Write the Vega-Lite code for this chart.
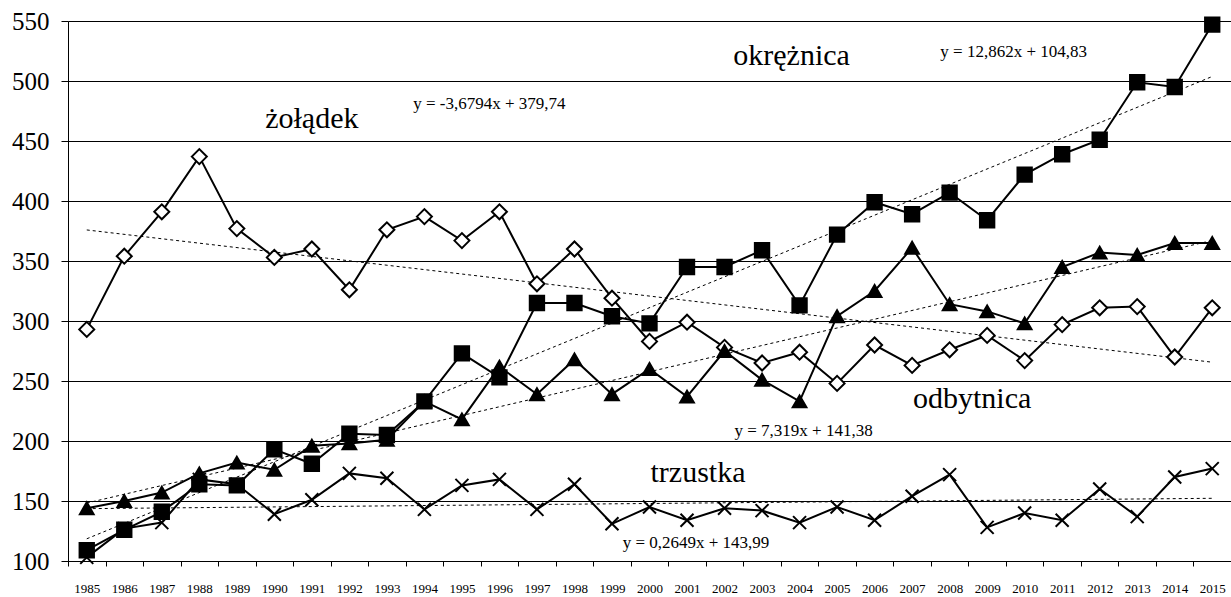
{
  "$schema": "https://vega.github.io/schema/vega-lite/v6.json",
  "width": 1163,
  "height": 540,
  "autosize": "none",
  "padding": {"left": 68, "top": 21, "right": 0, "bottom": 36},
  "background": "white",
  "config": {"view": {"stroke": null}, "font": "Liberation Serif, Times New Roman, serif"},
  "datasets": {
    "series": [
      {"year": 1985, "site": "żołądek", "value": 293}, {"year": 1986, "site": "żołądek", "value": 354}, {"year": 1987, "site": "żołądek", "value": 391}, {"year": 1988, "site": "żołądek", "value": 437}, {"year": 1989, "site": "żołądek", "value": 377}, {"year": 1990, "site": "żołądek", "value": 353}, {"year": 1991, "site": "żołądek", "value": 360}, {"year": 1992, "site": "żołądek", "value": 326}, {"year": 1993, "site": "żołądek", "value": 376}, {"year": 1994, "site": "żołądek", "value": 387}, {"year": 1995, "site": "żołądek", "value": 367}, {"year": 1996, "site": "żołądek", "value": 391}, {"year": 1997, "site": "żołądek", "value": 331}, {"year": 1998, "site": "żołądek", "value": 360}, {"year": 1999, "site": "żołądek", "value": 319}, {"year": 2000, "site": "żołądek", "value": 283}, {"year": 2001, "site": "żołądek", "value": 299}, {"year": 2002, "site": "żołądek", "value": 278}, {"year": 2003, "site": "żołądek", "value": 265}, {"year": 2004, "site": "żołądek", "value": 274}, {"year": 2005, "site": "żołądek", "value": 248}, {"year": 2006, "site": "żołądek", "value": 280}, {"year": 2007, "site": "żołądek", "value": 263}, {"year": 2008, "site": "żołądek", "value": 276}, {"year": 2009, "site": "żołądek", "value": 288}, {"year": 2010, "site": "żołądek", "value": 267}, {"year": 2011, "site": "żołądek", "value": 297}, {"year": 2012, "site": "żołądek", "value": 311}, {"year": 2013, "site": "żołądek", "value": 312}, {"year": 2014, "site": "żołądek", "value": 270}, {"year": 2015, "site": "żołądek", "value": 311},
      {"year": 1985, "site": "okrężnica", "value": 109}, {"year": 1986, "site": "okrężnica", "value": 126}, {"year": 1987, "site": "okrężnica", "value": 141}, {"year": 1988, "site": "okrężnica", "value": 164}, {"year": 1989, "site": "okrężnica", "value": 163}, {"year": 1990, "site": "okrężnica", "value": 193}, {"year": 1991, "site": "okrężnica", "value": 181}, {"year": 1992, "site": "okrężnica", "value": 206}, {"year": 1993, "site": "okrężnica", "value": 205}, {"year": 1994, "site": "okrężnica", "value": 233}, {"year": 1995, "site": "okrężnica", "value": 273}, {"year": 1996, "site": "okrężnica", "value": 253}, {"year": 1997, "site": "okrężnica", "value": 315}, {"year": 1998, "site": "okrężnica", "value": 315}, {"year": 1999, "site": "okrężnica", "value": 304}, {"year": 2000, "site": "okrężnica", "value": 298}, {"year": 2001, "site": "okrężnica", "value": 345}, {"year": 2002, "site": "okrężnica", "value": 345}, {"year": 2003, "site": "okrężnica", "value": 359}, {"year": 2004, "site": "okrężnica", "value": 313}, {"year": 2005, "site": "okrężnica", "value": 372}, {"year": 2006, "site": "okrężnica", "value": 399}, {"year": 2007, "site": "okrężnica", "value": 389}, {"year": 2008, "site": "okrężnica", "value": 407}, {"year": 2009, "site": "okrężnica", "value": 384}, {"year": 2010, "site": "okrężnica", "value": 422}, {"year": 2011, "site": "okrężnica", "value": 439}, {"year": 2012, "site": "okrężnica", "value": 451}, {"year": 2013, "site": "okrężnica", "value": 499}, {"year": 2014, "site": "okrężnica", "value": 495}, {"year": 2015, "site": "okrężnica", "value": 547},
      {"year": 1985, "site": "odbytnica", "value": 144}, {"year": 1986, "site": "odbytnica", "value": 150}, {"year": 1987, "site": "odbytnica", "value": 157}, {"year": 1988, "site": "odbytnica", "value": 173}, {"year": 1989, "site": "odbytnica", "value": 182}, {"year": 1990, "site": "odbytnica", "value": 176}, {"year": 1991, "site": "odbytnica", "value": 196}, {"year": 1992, "site": "odbytnica", "value": 198}, {"year": 1993, "site": "odbytnica", "value": 201}, {"year": 1994, "site": "odbytnica", "value": 233}, {"year": 1995, "site": "odbytnica", "value": 218}, {"year": 1996, "site": "odbytnica", "value": 262}, {"year": 1997, "site": "odbytnica", "value": 239}, {"year": 1998, "site": "odbytnica", "value": 268}, {"year": 1999, "site": "odbytnica", "value": 239}, {"year": 2000, "site": "odbytnica", "value": 260}, {"year": 2001, "site": "odbytnica", "value": 237}, {"year": 2002, "site": "odbytnica", "value": 275}, {"year": 2003, "site": "odbytnica", "value": 251}, {"year": 2004, "site": "odbytnica", "value": 233}, {"year": 2005, "site": "odbytnica", "value": 304}, {"year": 2006, "site": "odbytnica", "value": 325}, {"year": 2007, "site": "odbytnica", "value": 361}, {"year": 2008, "site": "odbytnica", "value": 314}, {"year": 2009, "site": "odbytnica", "value": 308}, {"year": 2010, "site": "odbytnica", "value": 298}, {"year": 2011, "site": "odbytnica", "value": 345}, {"year": 2012, "site": "odbytnica", "value": 357}, {"year": 2013, "site": "odbytnica", "value": 355}, {"year": 2014, "site": "odbytnica", "value": 365}, {"year": 2015, "site": "odbytnica", "value": 365},
      {"year": 1985, "site": "trzustka", "value": 103}, {"year": 1986, "site": "trzustka", "value": 127}, {"year": 1987, "site": "trzustka", "value": 132}, {"year": 1988, "site": "trzustka", "value": 168}, {"year": 1989, "site": "trzustka", "value": 164}, {"year": 1990, "site": "trzustka", "value": 139}, {"year": 1991, "site": "trzustka", "value": 151}, {"year": 1992, "site": "trzustka", "value": 173}, {"year": 1993, "site": "trzustka", "value": 169}, {"year": 1994, "site": "trzustka", "value": 143}, {"year": 1995, "site": "trzustka", "value": 163}, {"year": 1996, "site": "trzustka", "value": 168}, {"year": 1997, "site": "trzustka", "value": 143}, {"year": 1998, "site": "trzustka", "value": 164}, {"year": 1999, "site": "trzustka", "value": 131}, {"year": 2000, "site": "trzustka", "value": 145}, {"year": 2001, "site": "trzustka", "value": 134}, {"year": 2002, "site": "trzustka", "value": 144}, {"year": 2003, "site": "trzustka", "value": 142}, {"year": 2004, "site": "trzustka", "value": 132}, {"year": 2005, "site": "trzustka", "value": 145}, {"year": 2006, "site": "trzustka", "value": 134}, {"year": 2007, "site": "trzustka", "value": 154}, {"year": 2008, "site": "trzustka", "value": 172}, {"year": 2009, "site": "trzustka", "value": 128}, {"year": 2010, "site": "trzustka", "value": 140}, {"year": 2011, "site": "trzustka", "value": 134}, {"year": 2012, "site": "trzustka", "value": 160}, {"year": 2013, "site": "trzustka", "value": 137}, {"year": 2014, "site": "trzustka", "value": 170}, {"year": 2015, "site": "trzustka", "value": 177}
    ],
    "labels": [
      {"id": "l1", "year": 1991, "value": 460.6, "text": "żołądek"},
      {"id": "l2", "year": 2004, "value": 513.3, "text": "okrężnica"},
      {"id": "l3", "year": 2009, "value": 227.2, "text": "odbytnica"},
      {"id": "l4", "year": 2001, "value": 166.1, "text": "trzustka"},
      {"id": "e1", "year": 1996, "value": 476.4, "text": "y = -3,6794x + 379,74"},
      {"id": "e2", "year": 2010, "value": 520.3, "text": "y = 12,862x + 104,83"},
      {"id": "e3", "year": 2004, "value": 204.2, "text": "y = 7,319x + 141,38"},
      {"id": "e4", "year": 2001, "value": 111.1, "text": "y = 0,2649x + 143,99"}
    ]
  },
  "encoding": {
    "x": {
      "field": "year", "type": "ordinal", "bandPosition": 0.5,
      "scale": {"type": "band", "paddingInner": 0, "paddingOuter": 0},
      "axis": {"title": null, "labelAngle": 0, "labelFont": "Liberation Serif, Times New Roman, serif", "labelFontSize": 13, "labelColor": "black", "tickBand": "extent", "tickSize": 5, "tickColor": "black", "domainColor": "black", "labelPadding": 16, "grid": false}
    },
    "y": {
      "field": "value", "type": "quantitative",
      "scale": {"domain": [100, 550], "nice": false, "zero": false},
      "axis": {"title": null, "values": [100, 150, 200, 250, 300, 350, 400, 450, 500, 550], "labelFont": "Liberation Serif, Times New Roman, serif", "labelFontSize": 25, "labelColor": "black", "tickSize": 7, "tickColor": "black", "domainColor": "black", "gridColor": "black", "gridOpacity": 1, "gridWidth": 1, "labelPadding": 12, "grid": true}
    }
  },
  "layer": [
    {
      "data": {"name": "series"},
      "transform": [{"regression": "value", "on": "year", "groupby": ["site"]}],
      "mark": {"type": "line", "color": "black", "strokeWidth": 1, "strokeDash": [3, 3]},
      "encoding": {"detail": {"field": "site"}}
    },
    {
      "data": {"name": "series"},
      "mark": {"type": "line", "color": "black", "strokeWidth": 2},
      "encoding": {"detail": {"field": "site"}}
    },
    {
      "data": {"name": "series"},
      "mark": {"type": "point", "filled": true, "stroke": "black", "strokeWidth": 2, "opacity": 1},
      "encoding": {
        "shape": {"field": "site", "type": "nominal", "scale": {"domain": ["żołądek", "okrężnica", "odbytnica", "trzustka"], "range": ["diamond", "square", "triangle-up", "M-1,-1L1,1M-1,1L1,-1"]}, "legend": null},
        "fill": {"field": "site", "type": "nominal", "scale": {"domain": ["żołądek", "okrężnica", "odbytnica", "trzustka"], "range": ["white", "black", "black", "white"]}, "legend": null},
        "size": {"field": "site", "type": "nominal", "scale": {"domain": ["żołądek", "okrężnica", "odbytnica", "trzustka"], "range": [225, 169, 150, 196]}, "legend": null}
      }
    },
    {"data": {"name": "labels"}, "transform": [{"filter": "datum.id === 'l1'"}], "mark": {"type": "text", "font": "Liberation Serif, Times New Roman, serif", "fontSize": 30, "align": "center", "baseline": "alphabetic", "color": "black", "dx": 0}, "encoding": {"text": {"field": "text"}}},
    {"data": {"name": "labels"}, "transform": [{"filter": "datum.id === 'l2'"}], "mark": {"type": "text", "font": "Liberation Serif, Times New Roman, serif", "fontSize": 30, "align": "center", "baseline": "alphabetic", "color": "black", "dx": -8}, "encoding": {"text": {"field": "text"}}},
    {"data": {"name": "labels"}, "transform": [{"filter": "datum.id === 'l3'"}], "mark": {"type": "text", "font": "Liberation Serif, Times New Roman, serif", "fontSize": 30, "align": "center", "baseline": "alphabetic", "color": "black", "dx": -15}, "encoding": {"text": {"field": "text"}}},
    {"data": {"name": "labels"}, "transform": [{"filter": "datum.id === 'l4'"}], "mark": {"type": "text", "font": "Liberation Serif, Times New Roman, serif", "fontSize": 30, "align": "center", "baseline": "alphabetic", "color": "black", "dx": 11}, "encoding": {"text": {"field": "text"}}},
    {"data": {"name": "labels"}, "transform": [{"filter": "datum.id === 'e1'"}], "mark": {"type": "text", "font": "Liberation Serif, Times New Roman, serif", "fontSize": 17, "align": "center", "baseline": "alphabetic", "color": "black", "dx": -10}, "encoding": {"text": {"field": "text"}}},
    {"data": {"name": "labels"}, "transform": [{"filter": "datum.id === 'e2'"}], "mark": {"type": "text", "font": "Liberation Serif, Times New Roman, serif", "fontSize": 17, "align": "center", "baseline": "alphabetic", "color": "black", "dx": -11}, "encoding": {"text": {"field": "text"}}},
    {"data": {"name": "labels"}, "transform": [{"filter": "datum.id === 'e3'"}], "mark": {"type": "text", "font": "Liberation Serif, Times New Roman, serif", "fontSize": 17, "align": "center", "baseline": "alphabetic", "color": "black", "dx": 4}, "encoding": {"text": {"field": "text"}}},
    {"data": {"name": "labels"}, "transform": [{"filter": "datum.id === 'e4'"}], "mark": {"type": "text", "font": "Liberation Serif, Times New Roman, serif", "fontSize": 17, "align": "center", "baseline": "alphabetic", "color": "black", "dx": 9}, "encoding": {"text": {"field": "text"}}}
  ]
}
